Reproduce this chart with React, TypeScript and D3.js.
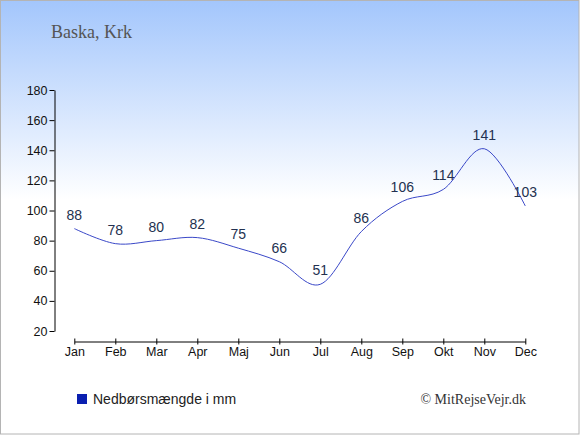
import { useEffect, useRef } from "react";
import * as d3 from "d3";

const WIDTH = 580;
const HEIGHT = 435;

const months = ["Jan", "Feb", "Mar", "Apr", "Maj", "Jun", "Jul", "Aug", "Sep", "Okt", "Nov", "Dec"];
const rainfall = [88, 78, 80, 82, 75, 66, 51, 86, 106, 114, 141, 103];
const yTicks = [20, 40, 60, 80, 100, 120, 140, 160, 180];

const title = "Baska, Krk";
const legendLabel = "Nedbørsmængde i mm";
const credit = "© MitRejseVejr.dk";

const SANS = "'Liberation Sans', Arial, sans-serif";
const SERIF = "'Liberation Serif', Georgia, serif";

export default function App() {
  const yAxisRef = useRef<SVGGElement>(null);
  const xAxisRef = useRef<SVGGElement>(null);

  const xScale = d3.scalePoint<string>().domain(months).range([74.3, 525.3]);
  const yScale = d3.scaleLinear().domain([20, 180]).range([331, 90]);

  useEffect(() => {
    document.body.style.margin = "0";
  }, []);

  useEffect(() => {
    if (!yAxisRef.current || !xAxisRef.current) return;

    const yAxis = d3.select(yAxisRef.current);
    yAxis.selectAll("*").remove();
    yAxis
      .call(d3.axisLeft(yScale).tickValues(yTicks).tickSize(5).tickSizeOuter(0).tickPadding(2))
      .attr("font-family", SANS)
      .attr("font-size", 12.5)
      .call((g) => g.select(".domain").attr("stroke", "#000"))
      .call((g) => g.selectAll("text").style("font-size", "12.5px").attr("fill", "#111"));

    const xAxis = d3.select(xAxisRef.current);
    xAxis.selectAll("*").remove();
    xAxis
      .call(d3.axisBottom(xScale).tickSize(3).tickSizeOuter(0).tickPadding(3))
      .attr("font-family", SANS)
      .attr("font-size", 12.5)
      .call((g) => g.select(".domain").attr("stroke", "#000"))
      .call((g) => g.selectAll(".tick line").attr("y1", -3).attr("y2", 3))
      .call((g) => g.selectAll("text").style("font-size", "12.5px").attr("fill", "#111"));
  }, []);

  const line = d3
    .line<number>()
    .x((_, i) => xScale(months[i]) ?? 0)
    .y((d) => yScale(d))
    .curve(d3.curveCardinal);

  return (
    <svg width={WIDTH} height={HEIGHT} style={{ display: "block" }}>
      <defs>
        <linearGradient id="bg" x1="0" y1="0" x2="0" y2="1">
          <stop offset="0" stopColor="#a3c6fc" />
          <stop offset="0.46" stopColor="#ffffff" />
          <stop offset="1" stopColor="#ffffff" />
        </linearGradient>
      </defs>
      <rect x={0.5} y={0.5} width={WIDTH - 1.5} height={HEIGHT - 1.5} fill="url(#bg)" stroke="#b4b4b4" />

      <text x={51} y={38} fontFamily={SERIF} fontSize={18} fill="#555">
        {title}
      </text>

      <g ref={yAxisRef} transform="translate(54.5,0)" />
      <g ref={xAxisRef} transform="translate(0,341.5)" />

      <path d={line(rainfall) ?? ""} fill="none" stroke="#3a48c8" strokeWidth={1} />

      {rainfall.map((v, i) => (
        <text
          key={months[i]}
          x={xScale(months[i])}
          y={yScale(v) - 9}
          textAnchor="middle"
          fontFamily={SANS}
          fontSize={14}
          fill="#233150"
        >
          {v}
        </text>
      ))}

      <rect x={77} y={394} width={10} height={10} fill="#0a1fb0" />
      <text x={93} y={404} fontFamily={SANS} fontSize={14} fill="#222">
        {legendLabel}
      </text>

      <text x={526} y={404} textAnchor="end" fontFamily={SERIF} fontSize={14} fill="#333">
        {credit}
      </text>
    </svg>
  );
}
